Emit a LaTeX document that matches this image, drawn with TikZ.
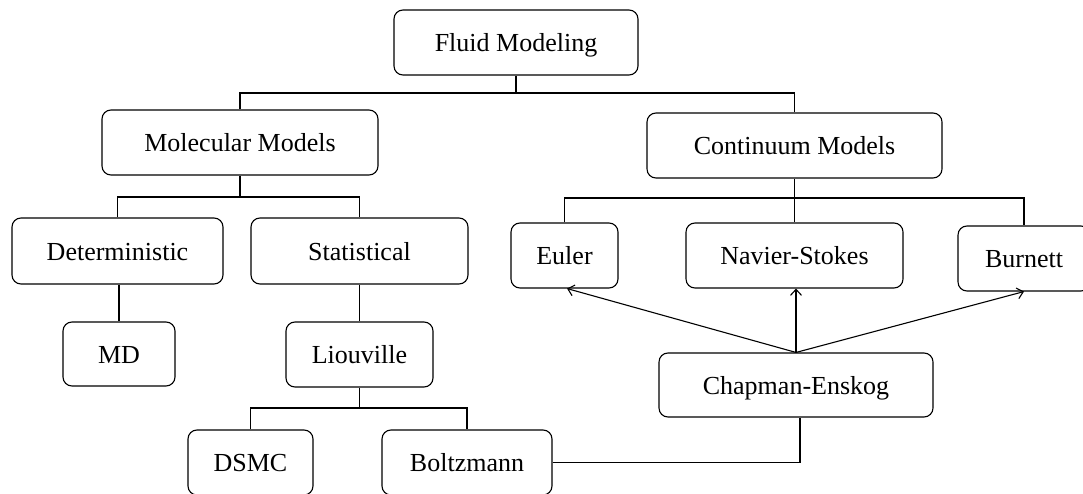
\documentclass[tikz,border=0pt]{standalone}
\usepackage{fontspec}
\setmainfont{Liberation Serif}
\usetikzlibrary{arrows.meta}
\begin{document}
\begin{tikzpicture}[x=1pt,y=-1pt,
  line width=1.1pt,
  box/.style={draw, rounded corners=9pt, inner sep=0pt,
    font=\fontsize{26}{30}\selectfont, text height=20pt, text depth=2pt,
    minimum height=65pt},
  link/.style={draw},
  derive/.style={draw, -{Straight Barb[length=6pt,width=11pt]}}]
\useasboundingbox (0,0) rectangle (1083,494);

% level 0
\node[box, minimum width=244pt] (fluid) at (516,42.5) {Fluid Modeling};
% level 1
\node[box, minimum width=276pt] (mol)  at (240,142.5) {Molecular Models};
\node[box, minimum width=295pt] (cont) at (794.5,145.5) {Continuum Models};
% level 2
\node[box, minimum width=211pt, minimum height=66pt] (det)  at (117.5,251) {Deterministic};
\node[box, minimum width=217pt, minimum height=66pt] (stat) at (359.5,251) {Statistical};
\node[box, minimum width=107pt] (euler)   at (564.5,255.5) {Euler};
\node[box, minimum width=217pt] (navier)  at (794.5,255.5) {Navier-Stokes};
\node[box, minimum width=132pt] (burnett) at (1024,258.5) {Burnett};
% level 3
\node[box, minimum width=112pt, minimum height=64pt] (md) at (119,354) {MD};
\node[box, minimum width=147pt] (liou) at (359.5,354.5) {Liouville};
\node[box, minimum width=274pt, minimum height=64pt] (chap) at (796,385) {Chapman-Enskog};
% level 4
\node[box, minimum width=125pt] (dsmc)  at (250.5,462.5) {DSMC};
\node[box, minimum width=170pt] (boltz) at (467,462.5) {Boltzmann};

% bus lines of the tree
\coordinate (busA) at (0,93);
\coordinate (busB) at (0,197);
\coordinate (busC) at (0,198);
\coordinate (busD) at (0,408);

\draw[link] (fluid.south) -- (fluid.south |- busA);
\draw[link] (mol.north) -- (mol.north |- busA) -- (cont.north |- busA) -- (cont.north);

\draw[link] (mol.south) -- (mol.south |- busB);
\draw[link] (det.north) -- (det.north |- busB) -- (stat.north |- busB) -- (stat.north);

\draw[link] (cont.south) -- (navier.north);
\draw[link] (euler.north) -- (euler.north |- busC) -- (burnett.north |- busC) -- (burnett.north);

\draw[link] (md.north |- det.south) -- (md.north);
\draw[link] (stat.south) -- (liou.north);

\draw[link] (liou.south) -- (liou.south |- busD);
\draw[link] (dsmc.north) -- (dsmc.north |- busD) -- (boltz.north |- busD) -- (boltz.north);

% Chapman-Enskog expansion
\draw[link] (boltz.east) -| ([xshift=4pt]chap.south);
\draw[derive] (chap.north) -- ([xshift=2.5pt]euler.south);
\draw[derive] (chap.north) -- ([xshift=1.5pt]navier.south);
\draw[derive] (chap.north) -- (burnett.south);
\end{tikzpicture}
\end{document}
